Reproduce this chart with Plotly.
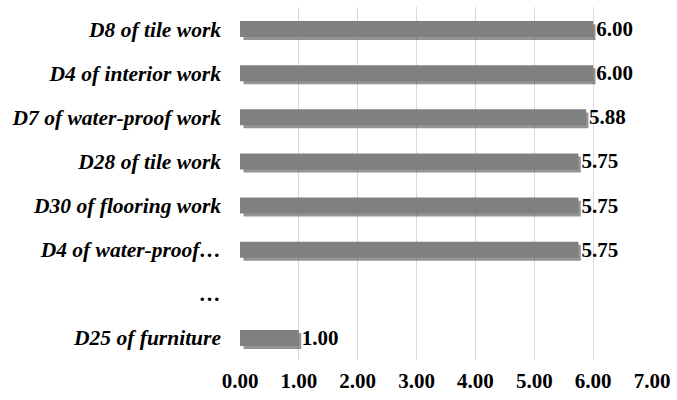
import plotly.graph_objects as go

# Ranked items and their mean scores (the "…" row stands for the omitted middle items)
categories = [
    "D8 of tile work",
    "D4 of interior work",
    "D7 of water-proof work",
    "D28 of tile work",
    "D30 of flooring work",
    "D4 of water-proof…",
    "…",
    "D25 of furniture",
]
scores = [6.00, 6.00, 5.88, 5.75, 5.75, 5.75, None, 1.00]
x_ticks = [0, 1, 2, 3, 4, 5, 6, 7]

positions = list(range(len(categories)))
bar_width = 0.36
serif = "Liberation Serif, Times New Roman, serif"

fig = go.Figure()

# soft drop shadow behind each bar
fig.add_trace(go.Bar(
    y=positions, x=[None if v is None else v - 0.02 for v in scores],
    base=0.06, orientation="h", width=bar_width, offset=-bar_width / 2 + 0.07,
    marker=dict(color="rgba(60,60,60,0.55)", line=dict(width=0)),
    hoverinfo="skip", showlegend=False,
))

# main bars with value labels
fig.add_trace(go.Bar(
    y=positions, x=scores, orientation="h", width=bar_width,
    offset=-bar_width / 2,
    marker=dict(color="#808080", line=dict(width=0)),
    text=[None if v is None else f"{v:.2f}" for v in scores],
    textposition="outside", cliponaxis=False, constraintext="none",
    textfont=dict(family=serif, size=21, color="black", weight="bold"),
    showlegend=False,
))

fig.update_layout(
    width=677, height=400,
    margin=dict(l=240, r=19, t=7, b=37),
    plot_bgcolor="white", paper_bgcolor="white",
    barmode="overlay",
    xaxis=dict(
        range=[0, 7], tickvals=x_ticks,
        ticktext=[f"{t:.2f}" for t in x_ticks],
        showgrid=True, gridcolor="#d9d9d9", gridwidth=1,
        zeroline=False, showline=False, ticks="",
        tickfont=dict(family=serif, size=21, color="black", weight="bold"),
        ticklabelstandoff=6, ticklabeloverflow="allow",
    ),
    yaxis=dict(
        range=[len(categories) - 0.5, -0.5],
        tickvals=positions, ticktext=categories,
        showgrid=False, zeroline=False, showline=False, ticks="",
        tickfont=dict(family=serif, size=21.5, color="black",
                      weight="bold", style="italic"),
        ticklabelstandoff=18,
    ),
)

fig.write_html("out.html")
